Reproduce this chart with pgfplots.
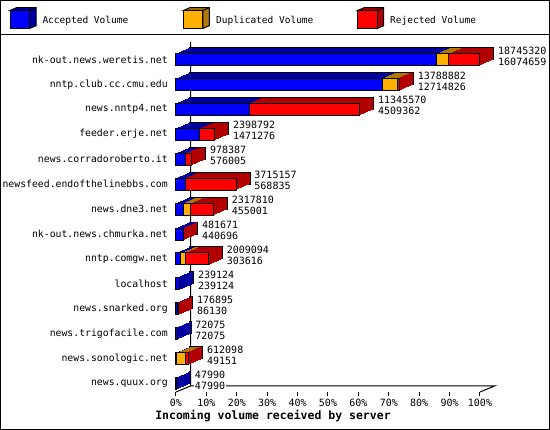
\documentclass[border=0pt]{standalone}
\usepackage{fontspec}
\setmainfont{DejaVu Sans Mono}
\usepackage{pgfplots}
\usepackage{pgfplotstable}
\pgfplotsset{compat=1.18}
\definecolor{accF}{HTML}{0000FF}
\definecolor{accD}{HTML}{0000A0}
\definecolor{dupF}{HTML}{FFB000}
\definecolor{dupD}{HTML}{B07800}
\definecolor{rejF}{HTML}{FF0000}
\definecolor{rejD}{HTML}{B00000}
\newcommand\lblfont{\fontsize{10pt}{12pt}\selectfont}
\newcommand\ylblfont{\fontsize{9.8pt}{12pt}\selectfont}
\newcommand\legfont{\fontsize{9.5pt}{11pt}\selectfont}

% percent of the largest total; acc = accepted, ad = accepted+duplicated, tot = all
\pgfplotstableread{
pos acc ad tot totlbl acclbl
0 85.75 89.75 100.00 18745320 16074659
-1 67.83 72.83 73.56 13788882 12714826
-2 24.06 24.06 60.52 11345570 4509362
-3 7.85 7.85 12.80 2398792 1471276
-4 3.07 3.07 5.22 978387 576005
-5 3.03 3.03 19.82 3715157 568835
-6 2.43 4.93 12.36 2317810 455001
-7 2.35 2.35 2.57 481671 440696
-8 1.62 3.02 10.72 2009094 303616
-9 1.28 1.28 1.28 239124 239124
-10 0.46 0.46 0.94 176895 86130
-11 0.38 0.38 0.38 72075 72075
-12 0.26 3.26 4.26 612098 49151
-13 0.26 0.26 0.26 47990 47990
}\hostdata

% depth sweep of one segment: #1 start expr, #2 length expr, #3 colour
\newcommand\sweep[3]{%
  \pgfplotsinvokeforeach{13,12,...,1}{%
    \addplot[draw=none,mark=none,xshift=##1pt,yshift=##1*0.428571pt,
      error bars/.cd, x dir=plus, x explicit, error mark=none,
      error bar style={line width=12pt,draw=#3,line cap=butt}]
      table[x expr=#1,y=pos,x error expr=#2]{\hostdata};
  }%
}

\newcommand\legcube[3]{%
  \filldraw[fill=#3,draw=black,line width=1pt] (#1pt,-10.5pt) -- ++(6.5pt,2.8pt) -- ++(19.5pt,0pt) -- ++(0pt,-18pt) -- ++(-6.5pt,-2.8pt) -- ++(0pt,18pt) -- cycle;
  \filldraw[fill=#2,draw=black,line width=1pt] (#1pt,-10.5pt) rectangle ++(19.5pt,-18pt);
  \draw[line width=1pt] (#1pt+19.5pt,-10.5pt) -- ++(6.5pt,2.8pt);
}

\pgfplotsset{chartgeom/.style={
  at={(176pt,-392pt)}, anchor=south west,
  scale only axis, width=304pt, height=352pt,
  xmin=0, xmax=100, ymin=-13.337, ymax=0.782,
  enlargelimits=false, clip=false}}

\begin{document}
\begin{tikzpicture}[font=\lblfont]
\path[use as bounding box] (0,0) rectangle (550pt,-430pt);
\fill[white] (0,0) rectangle (550pt,-430pt);
\draw[line width=1pt] (0.5pt,-0.5pt) rectangle (549.5pt,-429.5pt);
\draw[line width=1pt] (0pt,-35pt) -- (550pt,-35pt);

% legend
\legcube{10}{accF}{accD}
\legcube{183.3}{dupF}{dupD}
\legcube{357.7}{rejF}{rejD}
\node[anchor=base west,inner sep=0pt,font=\legfont] at (42.3pt,-24pt) {Accepted Volume};
\node[anchor=base west,inner sep=0pt,font=\legfont] at (216pt,-24pt) {Duplicated Volume};
\node[anchor=base west,inner sep=0pt,font=\legfont] at (390pt,-24pt) {Rejected Volume};

% back wall and floor
\draw[line width=1pt] (190.5pt,-42pt) -- (190.5pt,-386pt) -- (494.5pt,-386pt) -- (480pt,-392pt);
\draw[line width=1pt] (190.5pt,-386pt) -- (176pt,-392pt);

\begin{axis}[chartgeom,
  bar width=12pt,
  axis lines*=left, axis line style={draw=none},
  xtick={0,10,...,100},
  xticklabels={0\%,10\%,20\%,30\%,40\%,50\%,60\%,70\%,80\%,90\%,100\%},
  ytick={-13,-12,...,0},
  yticklabels={news.quux.org,news.sonologic.net,news.trigofacile.com,news.snarked.org,localhost,nntp.comgw.net,nk-out.news.chmurka.net,news.dne3.net,newsfeed.endofthelinebbs.com,news.corradoroberto.it,feeder.erje.net,news.nntp4.net,nntp.club.cc.cmu.edu,nk-out.news.weretis.net},
  ytick style={draw=none},
  xtick style={draw=black,line width=1pt},
  tick align=outside, major tick length=4pt,
  xticklabel style={font=\lblfont,inner sep=0pt,anchor=north,yshift=-3pt},
  yticklabel style={font=\ylblfont,inner sep=0pt,anchor=east,xshift=-4pt},
]
% back faces (14 px right, 6 px up), outlined
\addplot[xbar,fill=rejD,draw=black,line width=1pt,bar shift=0pt,xshift=14pt,yshift=6pt] table[x=tot,y=pos]{\hostdata};
\addplot[xbar,fill=dupD,draw=black,line width=1pt,bar shift=0pt,xshift=14pt,yshift=6pt] table[x=ad,y=pos]{\hostdata};
\addplot[xbar,fill=accD,draw=black,line width=1pt,bar shift=0pt,xshift=14pt,yshift=6pt] table[x=acc,y=pos]{\hostdata};
% depth sweeps, segment by segment
\sweep{0}{\thisrow{acc}}{accD}
\sweep{\thisrow{acc}}{\thisrow{ad}-\thisrow{acc}}{dupD}
\sweep{\thisrow{ad}}{\thisrow{tot}-\thisrow{ad}}{rejD}
% front faces
\addplot[xbar,fill=rejF,draw=black,line width=1pt,bar shift=0pt] table[x=tot,y=pos]{\hostdata};
\addplot[xbar,fill=dupF,draw=black,line width=1pt,bar shift=0pt] table[x=ad,y=pos]{\hostdata};
\addplot[xbar,fill=accF,draw=black,line width=1pt,bar shift=0pt] table[x=acc,y=pos]{\hostdata};
\end{axis}

\begin{axis}[chartgeom, hide axis]
\addplot[draw=none,mark=none,nodes near coords,point meta=explicit symbolic,
  every node near coord/.style={anchor=west,xshift=17.5pt,yshift=9pt,fill=white,inner sep=0.5pt,text=black,font=\lblfont}]
  table[x=tot,y=pos,meta=totlbl]{\hostdata};
\addplot[draw=none,mark=none,nodes near coords,point meta=explicit symbolic,
  every node near coord/.style={anchor=west,xshift=17.5pt,yshift=-2pt,fill=white,inner sep=0.5pt,text=black,font=\lblfont}]
  table[x=tot,y=pos,meta=acclbl]{\hostdata};
\end{axis}

\node[font=\bfseries\fontsize{11.5pt}{13pt}\selectfont] at (273pt,-416pt) {Incoming volume received by server};
\end{tikzpicture}
\end{document}
